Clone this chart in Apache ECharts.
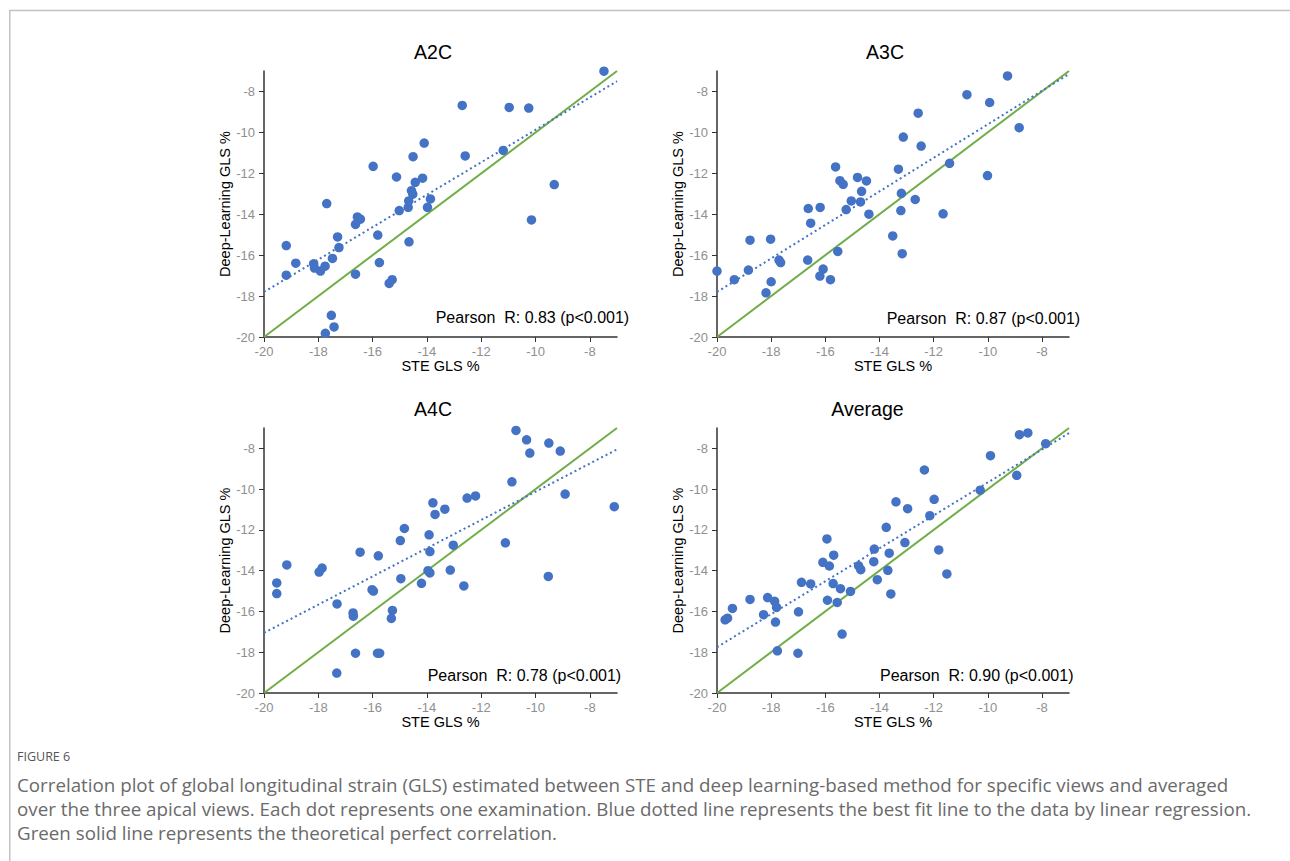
<!DOCTYPE html>
<html>
<head>
<meta charset="utf-8">
<script src="https://cdn.jsdelivr.net/npm/echarts@6/dist/echarts.min.js"></script>
<style>
html,body{margin:0;padding:0;background:#fff;}
#chart{width:1290px;height:861px;}
</style>
</head>
<body>
<div id="chart"></div>
<script>
// ---------- data ----------
const xTicks = [-20, -18, -16, -14, -12, -10, -8];
const yTicks = [-20, -18, -16, -14, -12, -10, -8];
const panelTitles = ['A2C', 'A3C', 'A4C', 'Average'];
const pearsonTexts = [
  'Pearson  R: 0.83 (p<0.001)',
  'Pearson  R: 0.87 (p<0.001)',
  'Pearson  R: 0.78 (p<0.001)',
  'Pearson  R: 0.90 (p<0.001)'
];
const xName = 'STE GLS %';
const yName = 'Deep-Learning GLS %';

const a2c = [
  [-7.48,-7.01],[-12.70,-8.68],[-10.97,-8.78],[-10.25,-8.81],[-14.10,-10.52],[-14.51,-11.19],
  [-12.59,-11.15],[-11.19,-10.88],[-15.98,-11.66],[-15.12,-12.18],[-14.16,-12.24],[-14.43,-12.44],
  [-9.31,-12.55],[-14.57,-12.85],[-14.52,-13.02],[-13.87,-13.25],[-14.67,-13.35],[-14.69,-13.66],
  [-13.98,-13.66],[-15.02,-13.82],[-17.69,-13.48],[-16.56,-14.13],[-16.45,-14.24],[-16.63,-14.50],
  [-10.15,-14.28],[-15.81,-15.02],[-17.29,-15.11],[-14.66,-15.35],[-19.18,-15.53],[-17.24,-15.63],
  [-17.48,-16.16],[-15.75,-16.36],[-18.83,-16.39],[-18.17,-16.42],[-18.14,-16.63],[-17.75,-16.54],
  [-17.92,-16.78],[-19.18,-16.98],[-16.63,-16.93],[-15.28,-17.20],[-15.39,-17.38],[-17.52,-18.94],
  [-17.42,-19.51],[-17.74,-19.82]
];
const a3c = [
  [-9.27,-7.24],[-10.77,-8.16],[-9.93,-8.54],[-12.57,-9.06],[-8.84,-9.77],[-13.12,-10.23],
  [-12.46,-10.67],[-15.62,-11.69],[-13.30,-11.80],[-11.41,-11.51],[-14.81,-12.20],[-15.46,-12.36],
  [-14.48,-12.37],[-15.34,-12.54],[-10.01,-12.11],[-14.66,-12.88],[-13.19,-12.98],[-15.04,-13.35],
  [-14.70,-13.40],[-12.68,-13.28],[-15.23,-13.77],[-13.21,-13.82],[-16.63,-13.72],[-16.19,-13.67],
  [-14.39,-14.00],[-11.65,-13.98],[-16.54,-14.44],[-13.51,-15.06],[-18.78,-15.27],[-18.02,-15.22],
  [-15.54,-15.82],[-13.16,-15.93],[-17.71,-16.24],[-17.65,-16.36],[-16.65,-16.24],[-20.00,-16.78],
  [-18.84,-16.73],[-19.36,-17.20],[-18.00,-17.30],[-16.08,-16.68],[-16.20,-17.02],[-15.81,-17.20],
  [-18.19,-17.84]
];
const a4c = [
  [-10.72,-7.12],[-10.33,-7.58],[-9.51,-7.74],[-9.09,-8.13],[-10.21,-8.23],[-10.87,-9.64],
  [-8.91,-10.24],[-7.10,-10.86],[-12.21,-10.33],[-12.52,-10.44],[-13.78,-10.67],[-13.34,-10.98],
  [-13.70,-11.24],[-14.83,-11.93],[-13.92,-12.24],[-14.98,-12.52],[-11.11,-12.63],[-13.03,-12.75],
  [-13.89,-13.06],[-16.46,-13.09],[-15.79,-13.27],[-19.16,-13.72],[-17.86,-13.87],[-17.97,-14.07],
  [-13.89,-14.11],[-13.96,-14.00],[-13.14,-13.97],[-9.53,-14.28],[-14.96,-14.39],[-19.53,-14.60],
  [-14.20,-14.62],[-12.64,-14.75],[-19.53,-15.12],[-16.02,-14.93],[-15.97,-15.00],[-17.31,-15.63],
  [-15.27,-15.95],[-15.31,-16.34],[-16.72,-16.07],[-16.71,-16.23],[-16.63,-18.05],[-15.82,-18.05],
  [-15.74,-18.05],[-17.32,-19.02]
];
const avg = [
  [-8.52,-7.24],[-8.83,-7.33],[-7.86,-7.77],[-9.90,-8.36],[-12.34,-9.06],[-8.93,-9.32],
  [-10.28,-10.05],[-11.98,-10.50],[-13.39,-10.62],[-12.96,-10.96],[-12.14,-11.30],[-13.75,-11.87],
  [-15.94,-12.44],[-13.06,-12.62],[-14.19,-12.94],[-11.81,-12.98],[-15.69,-13.24],[-13.64,-13.14],
  [-16.09,-13.59],[-15.85,-13.77],[-14.77,-13.76],[-14.69,-13.95],[-14.21,-13.56],[-13.69,-13.98],
  [-11.51,-14.16],[-14.08,-14.44],[-16.88,-14.57],[-16.54,-14.65],[-15.71,-14.63],[-15.44,-14.88],
  [-15.07,-15.02],[-13.58,-15.14],[-18.78,-15.41],[-18.13,-15.32],[-17.87,-15.50],[-15.92,-15.45],
  [-15.56,-15.56],[-17.80,-15.80],[-19.43,-15.85],[-16.99,-16.02],[-18.28,-16.16],[-19.70,-16.41],
  [-19.61,-16.33],[-17.84,-16.52],[-15.38,-17.11],[-17.77,-17.93],[-17.01,-18.05]
];
const fitA2C = [[-20,-17.8],[-7,-7.5]];
const fitA3C = [[-20,-17.8],[-7,-7.15]];
const fitA4C = [[-20,-17.05],[-7,-8.05]];
const fitAvg = [[-20,-17.75],[-7,-7.25]];
const identityLine = [[-20,-20],[-7,-7]];

const figureLabel = 'FIGURE 6';
const captionLines = [
  'Correlation plot of global longitudinal strain (GLS) estimated between STE and deep learning-based method for specific views and averaged',
  'over the three apical views. Each dot represents one examination. Blue dotted line represents the best fit line to the data by linear regression.',
  'Green solid line represents the theoretical perfect correlation.'
];

// ---------- layout ----------
const FONT = '"Liberation Sans", Arial, sans-serif';
const CAP_FONT = '"Open Sans", "Noto Sans", sans-serif';
const panels = [
  {data: a2c, fit: fitA2C, grid: {left: 264, top: 71, width: 353, height: 266}, tx: 433, ty: 51.5, px: 435.7, py: 317.4},
  {data: a3c, fit: fitA3C, grid: {left: 717, top: 71, width: 352, height: 266}, tx: 885, ty: 51.5, px: 886.7, py: 318},
  {data: a4c, fit: fitA4C, grid: {left: 264, top: 428, width: 353, height: 265}, tx: 433, ty: 408.5, px: 427.7, py: 675.3},
  {data: avg, fit: fitAvg, grid: {left: 717, top: 428, width: 352, height: 265}, tx: 867.5, ty: 408.5, px: 880, py: 675}
];

// fit caption font size to reference line width
const mctx = document.createElement('canvas').getContext('2d');
mctx.font = '16px ' + CAP_FONT;
const w1 = mctx.measureText(captionLines[0]).width;
const capSize = 16 * 1211 / w1;

const grids = [], xAxes = [], yAxes = [], series = [], graphics = [];
panels.forEach((p, i) => {
  grids.push(Object.assign({containLabel: false}, p.grid));
  xAxes.push({
    gridIndex: i, type: 'value', min: -20, max: -7, interval: 2,
    name: xName, nameLocation: 'middle', nameGap: 21,
    nameTextStyle: {color: '#000', fontSize: 14.5, fontFamily: FONT},
    axisLine: {show: true, onZero: false, lineStyle: {color: '#333', width: 1.5}},
    axisTick: {show: true, length: 5, customValues: xTicks, lineStyle: {color: '#333', width: 1}},
    axisLabel: {customValues: xTicks, color: '#8f8f8f', fontSize: 13, margin: 8, fontFamily: FONT},
    splitLine: {show: false}
  });
  yAxes.push({
    gridIndex: i, type: 'value', min: -20, max: -7, interval: 2,
    name: yName, nameLocation: 'middle', nameGap: 32,
    nameTextStyle: {color: '#000', fontSize: 14.5, fontFamily: FONT},
    axisLine: {show: true, onZero: false, lineStyle: {color: '#333', width: 1.5}},
    axisTick: {show: true, length: 5, customValues: yTicks, lineStyle: {color: '#333', width: 1}},
    axisLabel: {customValues: yTicks, color: '#8f8f8f', fontSize: 13, margin: 9, fontFamily: FONT},
    splitLine: {show: false}
  });
  series.push({
    type: 'line', xAxisIndex: i, yAxisIndex: i, data: identityLine, showSymbol: false, symbol: 'none',
    lineStyle: {color: '#70ad47', width: 2}, z: 2, silent: true
  });
  series.push({
    type: 'line', xAxisIndex: i, yAxisIndex: i, data: p.fit, showSymbol: false, symbol: 'none',
    lineStyle: {color: '#4472c4', width: 2, type: [2, 3]}, z: 3, silent: true
  });
  series.push({
    type: 'scatter', xAxisIndex: i, yAxisIndex: i, data: p.data, symbolSize: 9.5,
    itemStyle: {color: '#4472c4', opacity: 1}, z: 4
  });
  graphics.push({
    type: 'text', x: p.tx, y: p.ty,
    style: {text: panelTitles[i], fill: '#000', font: '19.5px ' + FONT, align: 'center', verticalAlign: 'middle'}
  });
  graphics.push({
    type: 'text', x: p.px, y: p.py,
    style: {text: pearsonTexts[i], fill: '#000', font: '16px ' + FONT, align: 'left', verticalAlign: 'middle'}
  });
});

// frame
graphics.push({type: 'line', shape: {x1: 9, y1: 10.5, x2: 1290, y2: 10.5}, style: {stroke: '#c2c2c2', lineWidth: 1.5}});
graphics.push({type: 'line', shape: {x1: 9.75, y1: 10, x2: 9.75, y2: 861}, style: {stroke: '#c2c2c2', lineWidth: 1.5}});
// caption
graphics.push({
  type: 'text', x: 17, y: 756,
  style: {text: figureLabel, fill: '#555', font: '12.5px ' + CAP_FONT, align: 'left', verticalAlign: 'middle'}
});
captionLines.forEach((t, k) => {
  graphics.push({
    type: 'text', x: 17, y: 784 + k * 24,
    style: {text: t, fill: '#6a6a6a', font: capSize.toFixed(2) + 'px ' + CAP_FONT, align: 'left', verticalAlign: 'middle'}
  });
});

const chart = echarts.init(document.getElementById('chart'), null, {renderer: 'svg', width: 1290, height: 861});
chart.setOption({
  animation: false,
  backgroundColor: '#fff',
  grid: grids,
  xAxis: xAxes,
  yAxis: yAxes,
  series: series,
  graphic: graphics
});
</script>
</body>
</html>
